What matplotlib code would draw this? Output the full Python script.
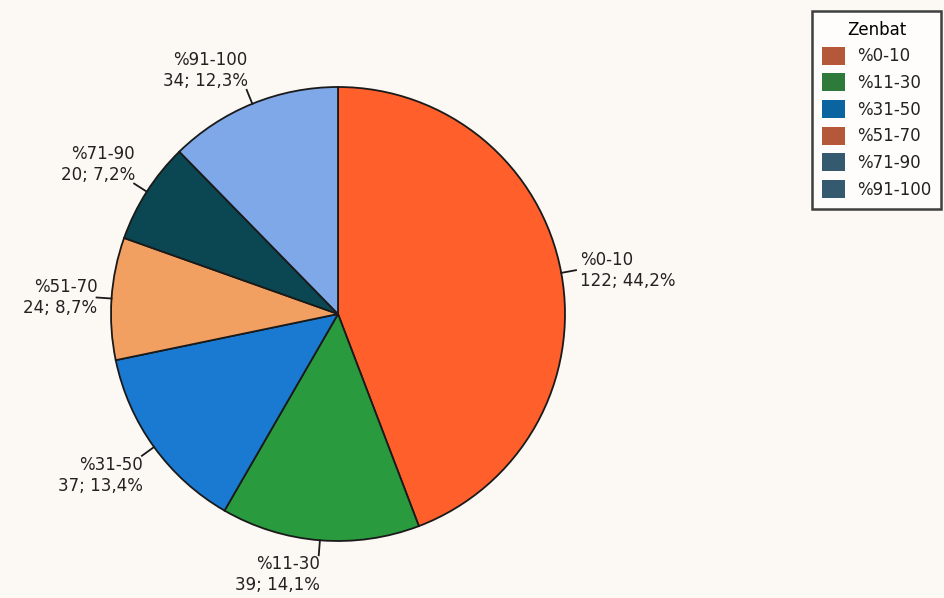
import numpy as np
import matplotlib.pyplot as plt
from matplotlib.patches import Patch

# slice data, clockwise from 12 o'clock
labels = ["%0-10", "%11-30", "%31-50", "%51-70", "%71-90", "%91-100"]
counts = [122, 39, 37, 24, 20, 34]
pct_text = ["44,2%", "14,1%", "13,4%", "8,7%", "7,2%", "12,3%"]
pie_colors = ["#FF5F2A", "#2A9A3E", "#1A7AD2", "#F2A062", "#0A4752", "#7FA8E8"]
# legend swatches in the original do not match the slices
legend_colors = ["#B5583A", "#2E7A3A", "#0A64A0", "#B5583A", "#35596E", "#35596E"]

bg = "#FCF8F3"
fig = plt.figure(figsize=(9.44, 5.98), dpi=100, facecolor=bg)
ax = fig.add_axes([0, 0, 1, 1])
ax.set_facecolor(bg)

cx, cy, r = 338, 284, 227
wedges, _ = ax.pie(counts, colors=pie_colors, startangle=90, counterclock=False,
                   center=(cx, cy), radius=r, frame=True,
                   wedgeprops=dict(edgecolor="#1a1a1a", linewidth=1.3))
ax.set_xlim(0, 944)
ax.set_ylim(0, 598)
ax.axis("off")

total = sum(counts)
start = 90.0
for lab, n, p in zip(labels, counts, pct_text):
    span = 360.0 * n / total
    mid = np.deg2rad(start - span / 2)
    start -= span
    c, s = np.cos(mid), np.sin(mid)
    x0, y0 = cx + r * c, cy + r * s
    x1, y1 = cx + (r + 15) * c, cy + (r + 15) * s
    ax.plot([x0, x1], [y0, y1], color="#1a1a1a", lw=1.3)
    ha = "left" if c > 0 else "right"
    if abs(s) < 0.5:
        va = "center"
    elif s > 0:
        va = "bottom"
    else:
        va = "top"
    tx = x1 + (4 if c > 0 else 1)
    ax.text(tx, y1, f"{lab}\n{n}; {p}", ha=ha, va=va, ma=ha,
            fontsize=12, color="#222222", linespacing=1.2)

handles = [Patch(facecolor=col, edgecolor="none") for col in legend_colors]
leg = fig.legend(handles, labels, title="Zenbat", loc="upper right",
                 bbox_to_anchor=(0.999, 0.985), fontsize=12, title_fontsize=12,
                 frameon=True, fancybox=False, handlelength=1.4, handleheight=1.3,
                 labelspacing=0.48, handletextpad=0.7, borderpad=0.6,
                 borderaxespad=0.1, alignment="center")
leg.get_frame().set_edgecolor("#111111")
leg.get_frame().set_linewidth(1.8)
leg.get_frame().set_facecolor("white")
for t in leg.get_texts():
    t.set_color("#222222")

fig.savefig("out.png", dpi=100, facecolor=bg)
